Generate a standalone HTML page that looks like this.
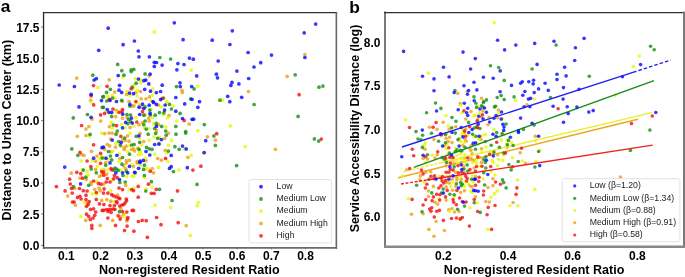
<!DOCTYPE html>
<html><head><meta charset="utf-8"><style>
html,body{margin:0;padding:0;background:#fff;}
body{width:685px;height:277px;overflow:hidden;}
svg{display:block;font-family:"Liberation Sans",sans-serif;will-change:transform;}
.B{fill:rgb(5,5,255);fill-opacity:0.8}.G{fill:rgb(18,143,18);fill-opacity:0.8}.Y{fill:rgb(230,249,5);fill-opacity:0.8}.O{fill:rgb(236,159,18);fill-opacity:0.8}.R{fill:rgb(243,14,14);fill-opacity:0.8}
</style></head><body>
<svg width="685" height="277" viewBox="0 0 685 277">
<text x="0.7" y="12.1" font-size="17.3" text-anchor="start" font-weight="bold" >a</text>
<text x="349.2" y="12.8" font-size="17.4" text-anchor="start" font-weight="bold" >b</text>
<defs><clipPath id="ca"><rect x="43" y="12.5" width="293.3" height="235.1"/></clipPath><clipPath id="cb"><rect x="385.3" y="12.5" width="298.7" height="234.3"/></clipPath></defs>
<g clip-path="url(#ca)">
<circle class="O" cx="304.9" cy="54.5" r="1.85"/>
<circle class="O" cx="76.8" cy="78.1" r="1.85"/>
<circle class="O" cx="90.7" cy="100.4" r="1.85"/>
<circle class="O" cx="92.0" cy="119.2" r="1.85"/>
<circle class="O" cx="100.8" cy="121.0" r="1.85"/>
<circle class="O" cx="88.9" cy="126.6" r="1.85"/>
<circle class="O" cx="85.9" cy="129.0" r="1.85"/>
<circle class="O" cx="109.2" cy="79.8" r="1.85"/>
<circle class="O" cx="114.7" cy="92.0" r="1.85"/>
<circle class="O" cx="126.6" cy="94.4" r="1.85"/>
<circle class="O" cx="122.5" cy="101.2" r="1.85"/>
<circle class="O" cx="129.0" cy="101.5" r="1.85"/>
<circle class="O" cx="149.0" cy="75.8" r="1.85"/>
<circle class="O" cx="135.7" cy="92.6" r="1.85"/>
<circle class="O" cx="140.4" cy="91.5" r="1.85"/>
<circle class="O" cx="149.5" cy="96.9" r="1.85"/>
<circle class="O" cx="146.0" cy="98.8" r="1.85"/>
<circle class="O" cx="141.1" cy="98.8" r="1.85"/>
<circle class="O" cx="182.0" cy="90.4" r="1.85"/>
<circle class="O" cx="182.3" cy="92.4" r="1.85"/>
<circle class="O" cx="248.5" cy="91.5" r="1.85"/>
<circle class="O" cx="287.2" cy="76.3" r="1.85"/>
<circle class="O" cx="132.2" cy="105.8" r="1.85"/>
<circle class="O" cx="116.5" cy="110.4" r="1.85"/>
<circle class="O" cx="115.8" cy="116.6" r="1.85"/>
<circle class="O" cx="122.5" cy="118.2" r="1.85"/>
<circle class="O" cx="127.0" cy="117.2" r="1.85"/>
<circle class="O" cx="109.5" cy="126.7" r="1.85"/>
<circle class="O" cx="130.1" cy="127.5" r="1.85"/>
<circle class="O" cx="133.9" cy="105.8" r="1.85"/>
<circle class="O" cx="141.1" cy="106.9" r="1.85"/>
<circle class="O" cx="158.5" cy="105.2" r="1.85"/>
<circle class="O" cx="144.9" cy="114.8" r="1.85"/>
<circle class="O" cx="148.7" cy="118.2" r="1.85"/>
<circle class="O" cx="149.2" cy="121.0" r="1.85"/>
<circle class="O" cx="142.5" cy="122.6" r="1.85"/>
<circle class="O" cx="139.0" cy="124.7" r="1.85"/>
<circle class="O" cx="158.5" cy="124.7" r="1.85"/>
<circle class="O" cx="156.6" cy="130.7" r="1.85"/>
<circle class="O" cx="169.0" cy="115.5" r="1.85"/>
<circle class="O" cx="189.2" cy="124.0" r="1.85"/>
<circle class="O" cx="71.2" cy="173.2" r="1.85"/>
<circle class="O" cx="77.3" cy="136.3" r="1.85"/>
<circle class="O" cx="86.0" cy="135.5" r="1.85"/>
<circle class="O" cx="91.6" cy="151.3" r="1.85"/>
<circle class="O" cx="81.7" cy="154.5" r="1.85"/>
<circle class="O" cx="83.8" cy="155.3" r="1.85"/>
<circle class="O" cx="97.0" cy="156.0" r="1.85"/>
<circle class="O" cx="95.7" cy="161.2" r="1.85"/>
<circle class="O" cx="95.7" cy="169.4" r="1.85"/>
<circle class="O" cx="80.0" cy="178.0" r="1.85"/>
<circle class="O" cx="86.2" cy="179.3" r="1.85"/>
<circle class="O" cx="99.5" cy="176.3" r="1.85"/>
<circle class="O" cx="101.7" cy="175.0" r="1.85"/>
<circle class="O" cx="90.9" cy="182.4" r="1.85"/>
<circle class="O" cx="91.2" cy="184.2" r="1.85"/>
<circle class="O" cx="74.6" cy="188.5" r="1.85"/>
<circle class="O" cx="94.7" cy="189.6" r="1.85"/>
<circle class="O" cx="99.0" cy="188.0" r="1.85"/>
<circle class="O" cx="100.1" cy="190.7" r="1.85"/>
<circle class="O" cx="104.6" cy="133.6" r="1.85"/>
<circle class="O" cx="109.0" cy="133.1" r="1.85"/>
<circle class="O" cx="112.2" cy="133.1" r="1.85"/>
<circle class="O" cx="127.7" cy="135.8" r="1.85"/>
<circle class="O" cx="110.6" cy="139.0" r="1.85"/>
<circle class="O" cx="123.0" cy="139.6" r="1.85"/>
<circle class="O" cx="125.2" cy="140.4" r="1.85"/>
<circle class="O" cx="129.0" cy="141.2" r="1.85"/>
<circle class="O" cx="107.3" cy="144.5" r="1.85"/>
<circle class="O" cx="109.7" cy="145.9" r="1.85"/>
<circle class="O" cx="120.9" cy="145.9" r="1.85"/>
<circle class="O" cx="126.3" cy="146.1" r="1.85"/>
<circle class="O" cx="104.6" cy="149.3" r="1.85"/>
<circle class="O" cx="115.5" cy="147.2" r="1.85"/>
<circle class="O" cx="124.4" cy="147.7" r="1.85"/>
<circle class="O" cx="124.1" cy="149.5" r="1.85"/>
<circle class="O" cx="131.7" cy="149.5" r="1.85"/>
<circle class="O" cx="111.1" cy="151.7" r="1.85"/>
<circle class="O" cx="119.8" cy="158.9" r="1.85"/>
<circle class="O" cx="126.3" cy="160.7" r="1.85"/>
<circle class="O" cx="129.5" cy="160.4" r="1.85"/>
<circle class="O" cx="140.0" cy="133.3" r="1.85"/>
<circle class="O" cx="143.8" cy="141.5" r="1.85"/>
<circle class="O" cx="158.8" cy="143.4" r="1.85"/>
<circle class="O" cx="133.5" cy="148.8" r="1.85"/>
<circle class="O" cx="134.6" cy="151.0" r="1.85"/>
<circle class="O" cx="137.9" cy="148.2" r="1.85"/>
<circle class="O" cx="146.0" cy="160.7" r="1.85"/>
<circle class="O" cx="137.3" cy="161.5" r="1.85"/>
<circle class="O" cx="157.7" cy="158.5" r="1.85"/>
<circle class="O" cx="161.4" cy="160.2" r="1.85"/>
<circle class="O" cx="168.4" cy="133.1" r="1.85"/>
<circle class="O" cx="164.7" cy="138.5" r="1.85"/>
<circle class="O" cx="207.4" cy="136.8" r="1.85"/>
<circle class="O" cx="215.4" cy="140.2" r="1.85"/>
<circle class="O" cx="165.2" cy="150.4" r="1.85"/>
<circle class="O" cx="187.9" cy="157.3" r="1.85"/>
<circle class="O" cx="275.4" cy="149.3" r="1.85"/>
<circle class="O" cx="67.7" cy="196.1" r="1.85"/>
<circle class="O" cx="101.7" cy="200.4" r="1.85"/>
<circle class="O" cx="75.4" cy="205.2" r="1.85"/>
<circle class="O" cx="87.1" cy="202.8" r="1.85"/>
<circle class="O" cx="85.8" cy="220.4" r="1.85"/>
<circle class="O" cx="117.6" cy="195.2" r="1.85"/>
<circle class="O" cx="106.8" cy="199.6" r="1.85"/>
<circle class="O" cx="110.8" cy="201.2" r="1.85"/>
<circle class="O" cx="120.9" cy="208.8" r="1.85"/>
<circle class="O" cx="123.6" cy="214.2" r="1.85"/>
<circle class="O" cx="120.9" cy="216.9" r="1.85"/>
<circle class="O" cx="112.7" cy="220.4" r="1.85"/>
<circle class="O" cx="126.8" cy="221.0" r="1.85"/>
<circle class="O" cx="105.7" cy="162.5" r="1.85"/>
<circle class="O" cx="123.6" cy="165.8" r="1.85"/>
<circle class="O" cx="126.3" cy="163.1" r="1.85"/>
<circle class="O" cx="125.7" cy="168.5" r="1.85"/>
<circle class="O" cx="104.1" cy="170.1" r="1.85"/>
<circle class="O" cx="106.8" cy="174.1" r="1.85"/>
<circle class="O" cx="103.5" cy="184.2" r="1.85"/>
<circle class="O" cx="125.7" cy="185.3" r="1.85"/>
<circle class="O" cx="137.3" cy="163.1" r="1.85"/>
<circle class="O" cx="133.5" cy="166.3" r="1.85"/>
<circle class="O" cx="152.3" cy="168.5" r="1.85"/>
<circle class="O" cx="153.6" cy="172.8" r="1.85"/>
<circle class="O" cx="186.2" cy="225.7" r="1.85"/>
<circle class="O" cx="100.2" cy="225.4" r="1.85"/>
<circle class="Y" cx="154.3" cy="31.9" r="1.85"/>
<circle class="Y" cx="191.2" cy="70.1" r="1.85"/>
<circle class="Y" cx="98.0" cy="87.4" r="1.85"/>
<circle class="Y" cx="91.5" cy="102.3" r="1.85"/>
<circle class="Y" cx="123.0" cy="77.1" r="1.85"/>
<circle class="Y" cx="127.0" cy="91.3" r="1.85"/>
<circle class="Y" cx="130.1" cy="95.3" r="1.85"/>
<circle class="Y" cx="112.2" cy="95.3" r="1.85"/>
<circle class="Y" cx="107.5" cy="96.4" r="1.85"/>
<circle class="Y" cx="114.7" cy="98.2" r="1.85"/>
<circle class="Y" cx="135.4" cy="78.7" r="1.85"/>
<circle class="Y" cx="140.6" cy="80.1" r="1.85"/>
<circle class="Y" cx="140.6" cy="82.8" r="1.85"/>
<circle class="Y" cx="134.6" cy="84.5" r="1.85"/>
<circle class="Y" cx="133.5" cy="87.7" r="1.85"/>
<circle class="Y" cx="153.0" cy="88.8" r="1.85"/>
<circle class="Y" cx="137.3" cy="90.4" r="1.85"/>
<circle class="Y" cx="137.3" cy="96.0" r="1.85"/>
<circle class="Y" cx="152.5" cy="95.1" r="1.85"/>
<circle class="Y" cx="150.9" cy="101.0" r="1.85"/>
<circle class="Y" cx="166.8" cy="101.5" r="1.85"/>
<circle class="Y" cx="197.8" cy="86.1" r="1.85"/>
<circle class="Y" cx="222.5" cy="100.2" r="1.85"/>
<circle class="Y" cx="230.5" cy="125.9" r="1.85"/>
<circle class="Y" cx="197.8" cy="130.5" r="1.85"/>
<circle class="Y" cx="106.8" cy="111.5" r="1.85"/>
<circle class="Y" cx="111.1" cy="113.7" r="1.85"/>
<circle class="Y" cx="116.9" cy="112.3" r="1.85"/>
<circle class="Y" cx="111.1" cy="122.4" r="1.85"/>
<circle class="Y" cx="121.6" cy="124.5" r="1.85"/>
<circle class="Y" cx="112.2" cy="128.0" r="1.85"/>
<circle class="Y" cx="125.2" cy="127.8" r="1.85"/>
<circle class="Y" cx="135.7" cy="102.5" r="1.85"/>
<circle class="Y" cx="139.5" cy="104.4" r="1.85"/>
<circle class="Y" cx="161.7" cy="106.9" r="1.85"/>
<circle class="Y" cx="150.9" cy="109.6" r="1.85"/>
<circle class="Y" cx="152.5" cy="117.7" r="1.85"/>
<circle class="Y" cx="136.0" cy="117.7" r="1.85"/>
<circle class="Y" cx="153.6" cy="123.7" r="1.85"/>
<circle class="Y" cx="133.9" cy="126.4" r="1.85"/>
<circle class="Y" cx="144.4" cy="127.8" r="1.85"/>
<circle class="Y" cx="148.7" cy="128.5" r="1.85"/>
<circle class="Y" cx="166.8" cy="102.5" r="1.85"/>
<circle class="Y" cx="173.3" cy="106.1" r="1.85"/>
<circle class="Y" cx="163.5" cy="114.5" r="1.85"/>
<circle class="Y" cx="167.5" cy="118.0" r="1.85"/>
<circle class="Y" cx="176.9" cy="121.0" r="1.85"/>
<circle class="Y" cx="166.0" cy="127.1" r="1.85"/>
<circle class="Y" cx="89.2" cy="136.1" r="1.85"/>
<circle class="Y" cx="101.7" cy="133.1" r="1.85"/>
<circle class="Y" cx="101.7" cy="156.4" r="1.85"/>
<circle class="Y" cx="99.5" cy="158.9" r="1.85"/>
<circle class="Y" cx="81.1" cy="161.0" r="1.85"/>
<circle class="Y" cx="92.5" cy="160.4" r="1.85"/>
<circle class="Y" cx="97.4" cy="166.1" r="1.85"/>
<circle class="Y" cx="101.4" cy="169.4" r="1.85"/>
<circle class="Y" cx="82.5" cy="169.6" r="1.85"/>
<circle class="Y" cx="87.1" cy="171.2" r="1.85"/>
<circle class="Y" cx="88.2" cy="175.0" r="1.85"/>
<circle class="Y" cx="96.3" cy="181.3" r="1.85"/>
<circle class="Y" cx="117.1" cy="133.3" r="1.85"/>
<circle class="Y" cx="130.1" cy="133.1" r="1.85"/>
<circle class="Y" cx="115.8" cy="143.4" r="1.85"/>
<circle class="Y" cx="129.5" cy="145.5" r="1.85"/>
<circle class="Y" cx="127.7" cy="151.3" r="1.85"/>
<circle class="Y" cx="112.7" cy="151.3" r="1.85"/>
<circle class="Y" cx="119.2" cy="154.2" r="1.85"/>
<circle class="Y" cx="103.5" cy="158.0" r="1.85"/>
<circle class="Y" cx="107.9" cy="159.6" r="1.85"/>
<circle class="Y" cx="119.0" cy="161.2" r="1.85"/>
<circle class="Y" cx="139.5" cy="138.0" r="1.85"/>
<circle class="Y" cx="154.1" cy="136.5" r="1.85"/>
<circle class="Y" cx="159.5" cy="137.4" r="1.85"/>
<circle class="Y" cx="149.2" cy="140.4" r="1.85"/>
<circle class="Y" cx="141.7" cy="145.0" r="1.85"/>
<circle class="Y" cx="139.7" cy="151.5" r="1.85"/>
<circle class="Y" cx="138.4" cy="154.7" r="1.85"/>
<circle class="Y" cx="141.1" cy="154.2" r="1.85"/>
<circle class="Y" cx="154.7" cy="154.2" r="1.85"/>
<circle class="Y" cx="145.5" cy="158.0" r="1.85"/>
<circle class="Y" cx="171.7" cy="140.7" r="1.85"/>
<circle class="Y" cx="168.4" cy="145.4" r="1.85"/>
<circle class="Y" cx="184.7" cy="148.9" r="1.85"/>
<circle class="Y" cx="166.9" cy="153.2" r="1.85"/>
<circle class="Y" cx="167.8" cy="161.5" r="1.85"/>
<circle class="Y" cx="191.2" cy="155.4" r="1.85"/>
<circle class="Y" cx="203.3" cy="153.0" r="1.85"/>
<circle class="Y" cx="178.8" cy="169.9" r="1.85"/>
<circle class="Y" cx="245.3" cy="146.5" r="1.85"/>
<circle class="Y" cx="92.5" cy="193.9" r="1.85"/>
<circle class="Y" cx="96.6" cy="194.4" r="1.85"/>
<circle class="Y" cx="84.4" cy="202.3" r="1.85"/>
<circle class="Y" cx="80.8" cy="216.4" r="1.85"/>
<circle class="Y" cx="113.8" cy="201.7" r="1.85"/>
<circle class="Y" cx="124.7" cy="216.4" r="1.85"/>
<circle class="Y" cx="155.2" cy="205.2" r="1.85"/>
<circle class="Y" cx="132.0" cy="164.7" r="1.85"/>
<circle class="Y" cx="120.9" cy="170.1" r="1.85"/>
<circle class="Y" cx="107.9" cy="169.8" r="1.85"/>
<circle class="Y" cx="126.6" cy="176.3" r="1.85"/>
<circle class="Y" cx="132.0" cy="175.9" r="1.85"/>
<circle class="Y" cx="111.7" cy="180.4" r="1.85"/>
<circle class="Y" cx="110.6" cy="190.7" r="1.85"/>
<circle class="Y" cx="129.0" cy="189.6" r="1.85"/>
<circle class="Y" cx="140.4" cy="165.0" r="1.85"/>
<circle class="Y" cx="146.0" cy="168.7" r="1.85"/>
<circle class="Y" cx="148.2" cy="169.0" r="1.85"/>
<circle class="Y" cx="158.5" cy="167.2" r="1.85"/>
<circle class="Y" cx="133.5" cy="176.3" r="1.85"/>
<circle class="Y" cx="144.4" cy="177.4" r="1.85"/>
<circle class="Y" cx="152.0" cy="187.1" r="1.85"/>
<circle class="Y" cx="133.9" cy="188.0" r="1.85"/>
<circle class="Y" cx="146.0" cy="188.9" r="1.85"/>
<circle class="Y" cx="170.7" cy="207.6" r="1.85"/>
<circle class="Y" cx="198.4" cy="202.5" r="1.85"/>
<circle class="Y" cx="197.3" cy="205.7" r="1.85"/>
<circle class="Y" cx="190.3" cy="235.4" r="1.85"/>
<circle class="G" cx="159.8" cy="57.5" r="1.85"/>
<circle class="G" cx="117.7" cy="64.4" r="1.85"/>
<circle class="G" cx="121.8" cy="70.7" r="1.85"/>
<circle class="G" cx="131.2" cy="69.8" r="1.85"/>
<circle class="G" cx="133.8" cy="69.4" r="1.85"/>
<circle class="G" cx="131.2" cy="71.6" r="1.85"/>
<circle class="G" cx="170.6" cy="59.0" r="1.85"/>
<circle class="G" cx="92.8" cy="75.2" r="1.85"/>
<circle class="G" cx="102.8" cy="96.9" r="1.85"/>
<circle class="G" cx="102.4" cy="107.3" r="1.85"/>
<circle class="G" cx="87.4" cy="114.5" r="1.85"/>
<circle class="G" cx="73.3" cy="117.9" r="1.85"/>
<circle class="G" cx="123.9" cy="75.2" r="1.85"/>
<circle class="G" cx="110.4" cy="89.3" r="1.85"/>
<circle class="G" cx="106.6" cy="92.4" r="1.85"/>
<circle class="G" cx="132.2" cy="87.2" r="1.85"/>
<circle class="G" cx="103.5" cy="96.7" r="1.85"/>
<circle class="G" cx="112.5" cy="98.0" r="1.85"/>
<circle class="G" cx="106.8" cy="101.0" r="1.85"/>
<circle class="G" cx="121.6" cy="100.4" r="1.85"/>
<circle class="G" cx="145.1" cy="73.9" r="1.85"/>
<circle class="G" cx="136.2" cy="83.2" r="1.85"/>
<circle class="G" cx="176.5" cy="86.6" r="1.85"/>
<circle class="G" cx="190.6" cy="98.9" r="1.85"/>
<circle class="G" cx="163.5" cy="98.0" r="1.85"/>
<circle class="G" cx="194.1" cy="88.9" r="1.85"/>
<circle class="G" cx="219.9" cy="100.2" r="1.85"/>
<circle class="G" cx="204.3" cy="124.6" r="1.85"/>
<circle class="G" cx="295.2" cy="74.8" r="1.85"/>
<circle class="G" cx="254.1" cy="104.5" r="1.85"/>
<circle class="G" cx="298.1" cy="116.4" r="1.85"/>
<circle class="G" cx="319.0" cy="87.2" r="1.85"/>
<circle class="G" cx="322.9" cy="86.1" r="1.85"/>
<circle class="G" cx="129.9" cy="106.1" r="1.85"/>
<circle class="G" cx="103.5" cy="107.4" r="1.85"/>
<circle class="G" cx="111.7" cy="116.6" r="1.85"/>
<circle class="G" cx="127.0" cy="114.5" r="1.85"/>
<circle class="G" cx="130.6" cy="115.0" r="1.85"/>
<circle class="G" cx="128.5" cy="119.3" r="1.85"/>
<circle class="G" cx="130.6" cy="121.5" r="1.85"/>
<circle class="G" cx="127.9" cy="123.7" r="1.85"/>
<circle class="G" cx="113.3" cy="125.0" r="1.85"/>
<circle class="G" cx="117.3" cy="131.0" r="1.85"/>
<circle class="G" cx="145.1" cy="106.9" r="1.85"/>
<circle class="G" cx="149.8" cy="110.1" r="1.85"/>
<circle class="G" cx="159.5" cy="112.6" r="1.85"/>
<circle class="G" cx="143.8" cy="115.2" r="1.85"/>
<circle class="G" cx="150.3" cy="115.0" r="1.85"/>
<circle class="G" cx="155.2" cy="115.2" r="1.85"/>
<circle class="G" cx="145.1" cy="121.0" r="1.85"/>
<circle class="G" cx="143.8" cy="124.7" r="1.85"/>
<circle class="G" cx="156.3" cy="123.4" r="1.85"/>
<circle class="G" cx="161.7" cy="126.4" r="1.85"/>
<circle class="G" cx="146.2" cy="129.1" r="1.85"/>
<circle class="G" cx="154.7" cy="128.5" r="1.85"/>
<circle class="G" cx="169.5" cy="104.4" r="1.85"/>
<circle class="G" cx="171.4" cy="109.0" r="1.85"/>
<circle class="G" cx="163.9" cy="112.8" r="1.85"/>
<circle class="G" cx="180.1" cy="113.4" r="1.85"/>
<circle class="G" cx="175.8" cy="126.4" r="1.85"/>
<circle class="G" cx="165.7" cy="131.0" r="1.85"/>
<circle class="G" cx="185.7" cy="131.5" r="1.85"/>
<circle class="G" cx="71.8" cy="148.9" r="1.85"/>
<circle class="G" cx="90.1" cy="134.4" r="1.85"/>
<circle class="G" cx="77.9" cy="155.3" r="1.85"/>
<circle class="G" cx="102.2" cy="158.0" r="1.85"/>
<circle class="G" cx="91.2" cy="169.0" r="1.85"/>
<circle class="G" cx="83.3" cy="170.1" r="1.85"/>
<circle class="G" cx="96.3" cy="172.8" r="1.85"/>
<circle class="G" cx="85.8" cy="177.2" r="1.85"/>
<circle class="G" cx="88.7" cy="185.3" r="1.85"/>
<circle class="G" cx="73.5" cy="186.7" r="1.85"/>
<circle class="G" cx="116.0" cy="134.2" r="1.85"/>
<circle class="G" cx="124.7" cy="138.0" r="1.85"/>
<circle class="G" cx="118.7" cy="141.5" r="1.85"/>
<circle class="G" cx="120.3" cy="144.8" r="1.85"/>
<circle class="G" cx="131.7" cy="145.0" r="1.85"/>
<circle class="G" cx="108.4" cy="151.5" r="1.85"/>
<circle class="G" cx="129.5" cy="154.2" r="1.85"/>
<circle class="G" cx="110.4" cy="156.0" r="1.85"/>
<circle class="G" cx="122.5" cy="157.5" r="1.85"/>
<circle class="G" cx="111.7" cy="159.9" r="1.85"/>
<circle class="G" cx="148.2" cy="134.2" r="1.85"/>
<circle class="G" cx="155.7" cy="133.3" r="1.85"/>
<circle class="G" cx="136.2" cy="136.3" r="1.85"/>
<circle class="G" cx="157.7" cy="138.3" r="1.85"/>
<circle class="G" cx="139.7" cy="142.3" r="1.85"/>
<circle class="G" cx="134.1" cy="144.5" r="1.85"/>
<circle class="G" cx="146.5" cy="147.4" r="1.85"/>
<circle class="G" cx="149.2" cy="148.8" r="1.85"/>
<circle class="G" cx="152.0" cy="149.3" r="1.85"/>
<circle class="G" cx="139.0" cy="149.3" r="1.85"/>
<circle class="G" cx="166.2" cy="135.2" r="1.85"/>
<circle class="G" cx="176.0" cy="134.2" r="1.85"/>
<circle class="G" cx="185.7" cy="133.1" r="1.85"/>
<circle class="G" cx="213.9" cy="135.9" r="1.85"/>
<circle class="G" cx="215.4" cy="145.4" r="1.85"/>
<circle class="G" cx="174.9" cy="146.7" r="1.85"/>
<circle class="G" cx="179.2" cy="149.3" r="1.85"/>
<circle class="G" cx="168.4" cy="151.1" r="1.85"/>
<circle class="G" cx="173.4" cy="171.6" r="1.85"/>
<circle class="G" cx="197.0" cy="184.4" r="1.85"/>
<circle class="G" cx="236.6" cy="165.6" r="1.85"/>
<circle class="G" cx="314.4" cy="138.9" r="1.85"/>
<circle class="G" cx="318.7" cy="141.1" r="1.85"/>
<circle class="G" cx="119.5" cy="211.7" r="1.85"/>
<circle class="G" cx="105.7" cy="165.2" r="1.85"/>
<circle class="G" cx="122.0" cy="164.2" r="1.85"/>
<circle class="G" cx="114.9" cy="168.0" r="1.85"/>
<circle class="G" cx="116.5" cy="169.0" r="1.85"/>
<circle class="G" cx="113.8" cy="170.1" r="1.85"/>
<circle class="G" cx="118.2" cy="170.4" r="1.85"/>
<circle class="G" cx="126.3" cy="171.2" r="1.85"/>
<circle class="G" cx="123.0" cy="175.5" r="1.85"/>
<circle class="G" cx="119.8" cy="182.4" r="1.85"/>
<circle class="G" cx="125.2" cy="182.0" r="1.85"/>
<circle class="G" cx="144.4" cy="165.2" r="1.85"/>
<circle class="G" cx="143.6" cy="169.4" r="1.85"/>
<circle class="G" cx="135.2" cy="172.8" r="1.85"/>
<circle class="G" cx="144.4" cy="175.5" r="1.85"/>
<circle class="G" cx="151.4" cy="181.7" r="1.85"/>
<circle class="G" cx="145.8" cy="191.0" r="1.85"/>
<circle class="G" cx="159.5" cy="189.3" r="1.85"/>
<circle class="G" cx="172.1" cy="200.5" r="1.85"/>
<circle class="R" cx="93.5" cy="85.6" r="1.85"/>
<circle class="R" cx="91.1" cy="95.8" r="1.85"/>
<circle class="R" cx="93.7" cy="104.9" r="1.85"/>
<circle class="R" cx="100.6" cy="114.9" r="1.85"/>
<circle class="R" cx="81.6" cy="125.5" r="1.85"/>
<circle class="R" cx="107.1" cy="86.3" r="1.85"/>
<circle class="R" cx="131.2" cy="88.8" r="1.85"/>
<circle class="R" cx="109.3" cy="99.3" r="1.85"/>
<circle class="R" cx="162.2" cy="98.5" r="1.85"/>
<circle class="R" cx="136.0" cy="101.5" r="1.85"/>
<circle class="R" cx="299.1" cy="94.7" r="1.85"/>
<circle class="R" cx="104.6" cy="113.4" r="1.85"/>
<circle class="R" cx="113.0" cy="109.0" r="1.85"/>
<circle class="R" cx="119.2" cy="112.3" r="1.85"/>
<circle class="R" cx="122.5" cy="109.6" r="1.85"/>
<circle class="R" cx="122.0" cy="111.7" r="1.85"/>
<circle class="R" cx="116.5" cy="125.6" r="1.85"/>
<circle class="R" cx="142.5" cy="111.7" r="1.85"/>
<circle class="R" cx="136.8" cy="122.0" r="1.85"/>
<circle class="R" cx="184.1" cy="120.4" r="1.85"/>
<circle class="R" cx="69.6" cy="179.2" r="1.85"/>
<circle class="R" cx="70.3" cy="184.0" r="1.85"/>
<circle class="R" cx="56.4" cy="186.6" r="1.85"/>
<circle class="R" cx="65.1" cy="190.9" r="1.85"/>
<circle class="R" cx="71.6" cy="188.3" r="1.85"/>
<circle class="R" cx="93.6" cy="144.8" r="1.85"/>
<circle class="R" cx="80.0" cy="152.4" r="1.85"/>
<circle class="R" cx="100.6" cy="153.4" r="1.85"/>
<circle class="R" cx="87.1" cy="161.0" r="1.85"/>
<circle class="R" cx="100.6" cy="163.3" r="1.85"/>
<circle class="R" cx="90.9" cy="166.5" r="1.85"/>
<circle class="R" cx="76.8" cy="172.3" r="1.85"/>
<circle class="R" cx="80.8" cy="173.7" r="1.85"/>
<circle class="R" cx="101.7" cy="171.7" r="1.85"/>
<circle class="R" cx="82.5" cy="178.2" r="1.85"/>
<circle class="R" cx="93.6" cy="181.0" r="1.85"/>
<circle class="R" cx="98.5" cy="183.4" r="1.85"/>
<circle class="R" cx="100.9" cy="184.2" r="1.85"/>
<circle class="R" cx="79.5" cy="188.5" r="1.85"/>
<circle class="R" cx="83.3" cy="190.7" r="1.85"/>
<circle class="R" cx="87.1" cy="191.0" r="1.85"/>
<circle class="R" cx="120.9" cy="136.3" r="1.85"/>
<circle class="R" cx="216.7" cy="133.7" r="1.85"/>
<circle class="R" cx="165.6" cy="158.4" r="1.85"/>
<circle class="R" cx="192.9" cy="170.1" r="1.85"/>
<circle class="R" cx="200.9" cy="166.2" r="1.85"/>
<circle class="R" cx="177.5" cy="190.9" r="1.85"/>
<circle class="R" cx="321.3" cy="139.1" r="1.85"/>
<circle class="R" cx="72.2" cy="193.1" r="1.85"/>
<circle class="R" cx="72.5" cy="202.0" r="1.85"/>
<circle class="R" cx="96.3" cy="192.5" r="1.85"/>
<circle class="R" cx="77.5" cy="197.4" r="1.85"/>
<circle class="R" cx="80.0" cy="196.3" r="1.85"/>
<circle class="R" cx="81.1" cy="199.0" r="1.85"/>
<circle class="R" cx="86.0" cy="195.2" r="1.85"/>
<circle class="R" cx="86.0" cy="199.6" r="1.85"/>
<circle class="R" cx="96.3" cy="199.4" r="1.85"/>
<circle class="R" cx="74.1" cy="202.0" r="1.85"/>
<circle class="R" cx="89.2" cy="201.7" r="1.85"/>
<circle class="R" cx="88.2" cy="204.5" r="1.85"/>
<circle class="R" cx="86.5" cy="206.3" r="1.85"/>
<circle class="R" cx="99.5" cy="203.9" r="1.85"/>
<circle class="R" cx="90.5" cy="209.3" r="1.85"/>
<circle class="R" cx="93.6" cy="208.8" r="1.85"/>
<circle class="R" cx="95.7" cy="212.0" r="1.85"/>
<circle class="R" cx="102.2" cy="210.4" r="1.85"/>
<circle class="R" cx="86.5" cy="214.2" r="1.85"/>
<circle class="R" cx="88.7" cy="216.4" r="1.85"/>
<circle class="R" cx="94.7" cy="215.3" r="1.85"/>
<circle class="R" cx="93.0" cy="218.0" r="1.85"/>
<circle class="R" cx="90.3" cy="219.6" r="1.85"/>
<circle class="R" cx="103.5" cy="193.1" r="1.85"/>
<circle class="R" cx="107.9" cy="193.1" r="1.85"/>
<circle class="R" cx="111.7" cy="194.7" r="1.85"/>
<circle class="R" cx="113.3" cy="195.8" r="1.85"/>
<circle class="R" cx="118.7" cy="198.0" r="1.85"/>
<circle class="R" cx="119.8" cy="198.7" r="1.85"/>
<circle class="R" cx="116.0" cy="196.9" r="1.85"/>
<circle class="R" cx="116.5" cy="201.5" r="1.85"/>
<circle class="R" cx="117.1" cy="202.8" r="1.85"/>
<circle class="R" cx="126.3" cy="199.0" r="1.85"/>
<circle class="R" cx="126.6" cy="200.7" r="1.85"/>
<circle class="R" cx="125.2" cy="202.8" r="1.85"/>
<circle class="R" cx="103.9" cy="204.5" r="1.85"/>
<circle class="R" cx="110.0" cy="205.5" r="1.85"/>
<circle class="R" cx="114.4" cy="205.5" r="1.85"/>
<circle class="R" cx="119.8" cy="206.1" r="1.85"/>
<circle class="R" cx="122.0" cy="205.0" r="1.85"/>
<circle class="R" cx="123.6" cy="204.5" r="1.85"/>
<circle class="R" cx="132.2" cy="210.4" r="1.85"/>
<circle class="R" cx="106.2" cy="209.5" r="1.85"/>
<circle class="R" cx="108.4" cy="209.9" r="1.85"/>
<circle class="R" cx="110.6" cy="209.3" r="1.85"/>
<circle class="R" cx="113.3" cy="209.1" r="1.85"/>
<circle class="R" cx="114.9" cy="209.3" r="1.85"/>
<circle class="R" cx="107.9" cy="211.5" r="1.85"/>
<circle class="R" cx="111.1" cy="212.4" r="1.85"/>
<circle class="R" cx="103.5" cy="210.4" r="1.85"/>
<circle class="R" cx="122.5" cy="211.5" r="1.85"/>
<circle class="R" cx="126.8" cy="212.0" r="1.85"/>
<circle class="R" cx="118.2" cy="215.8" r="1.85"/>
<circle class="R" cx="127.9" cy="217.5" r="1.85"/>
<circle class="R" cx="127.4" cy="219.1" r="1.85"/>
<circle class="R" cx="107.9" cy="218.0" r="1.85"/>
<circle class="R" cx="138.2" cy="197.2" r="1.85"/>
<circle class="R" cx="151.4" cy="193.3" r="1.85"/>
<circle class="R" cx="154.1" cy="193.3" r="1.85"/>
<circle class="R" cx="133.5" cy="210.4" r="1.85"/>
<circle class="R" cx="156.6" cy="217.5" r="1.85"/>
<circle class="R" cx="142.2" cy="220.4" r="1.85"/>
<circle class="R" cx="146.2" cy="220.7" r="1.85"/>
<circle class="R" cx="138.4" cy="221.5" r="1.85"/>
<circle class="R" cx="111.1" cy="168.5" r="1.85"/>
<circle class="R" cx="111.7" cy="169.8" r="1.85"/>
<circle class="R" cx="103.5" cy="172.3" r="1.85"/>
<circle class="R" cx="103.9" cy="175.2" r="1.85"/>
<circle class="R" cx="114.4" cy="175.5" r="1.85"/>
<circle class="R" cx="117.1" cy="177.7" r="1.85"/>
<circle class="R" cx="113.6" cy="178.8" r="1.85"/>
<circle class="R" cx="107.3" cy="178.5" r="1.85"/>
<circle class="R" cx="106.2" cy="182.0" r="1.85"/>
<circle class="R" cx="110.0" cy="182.0" r="1.85"/>
<circle class="R" cx="119.0" cy="188.0" r="1.85"/>
<circle class="R" cx="122.5" cy="189.6" r="1.85"/>
<circle class="R" cx="104.1" cy="188.9" r="1.85"/>
<circle class="R" cx="131.7" cy="189.6" r="1.85"/>
<circle class="R" cx="150.3" cy="171.2" r="1.85"/>
<circle class="R" cx="148.4" cy="184.2" r="1.85"/>
<circle class="R" cx="138.2" cy="186.4" r="1.85"/>
<circle class="R" cx="156.3" cy="189.3" r="1.85"/>
<circle class="R" cx="133.5" cy="190.7" r="1.85"/>
<circle class="R" cx="178.2" cy="222.7" r="1.85"/>
<circle class="R" cx="91.8" cy="225.4" r="1.85"/>
<circle class="R" cx="91.8" cy="228.3" r="1.85"/>
<circle class="R" cx="120.1" cy="219.1" r="1.85"/>
<circle class="R" cx="115.5" cy="225.4" r="1.85"/>
<circle class="R" cx="127.1" cy="226.1" r="1.85"/>
<circle class="R" cx="124.5" cy="230.5" r="1.85"/>
<circle class="R" cx="133.9" cy="231.2" r="1.85"/>
<circle class="R" cx="161.0" cy="224.7" r="1.85"/>
<circle class="R" cx="147.4" cy="237.3" r="1.85"/>
<circle class="B" cx="98.7" cy="50.3" r="1.85"/>
<circle class="B" cx="108.2" cy="28.2" r="1.85"/>
<circle class="B" cx="134.4" cy="41.0" r="1.85"/>
<circle class="B" cx="123.1" cy="44.7" r="1.85"/>
<circle class="B" cx="138.3" cy="51.0" r="1.85"/>
<circle class="B" cx="139.0" cy="56.8" r="1.85"/>
<circle class="B" cx="149.4" cy="56.8" r="1.85"/>
<circle class="B" cx="154.3" cy="62.3" r="1.85"/>
<circle class="B" cx="156.5" cy="62.5" r="1.85"/>
<circle class="B" cx="162.1" cy="65.1" r="1.85"/>
<circle class="B" cx="154.3" cy="66.4" r="1.85"/>
<circle class="B" cx="174.3" cy="22.8" r="1.85"/>
<circle class="B" cx="183.1" cy="39.7" r="1.85"/>
<circle class="B" cx="212.2" cy="40.2" r="1.85"/>
<circle class="B" cx="189.4" cy="58.1" r="1.85"/>
<circle class="B" cx="193.3" cy="59.2" r="1.85"/>
<circle class="B" cx="218.2" cy="61.0" r="1.85"/>
<circle class="B" cx="177.9" cy="63.6" r="1.85"/>
<circle class="B" cx="184.0" cy="64.6" r="1.85"/>
<circle class="B" cx="176.9" cy="69.8" r="1.85"/>
<circle class="B" cx="232.3" cy="30.8" r="1.85"/>
<circle class="B" cx="229.9" cy="44.5" r="1.85"/>
<circle class="B" cx="248.1" cy="52.5" r="1.85"/>
<circle class="B" cx="271.5" cy="55.1" r="1.85"/>
<circle class="B" cx="260.7" cy="62.7" r="1.85"/>
<circle class="B" cx="254.0" cy="67.0" r="1.85"/>
<circle class="B" cx="236.9" cy="71.1" r="1.85"/>
<circle class="B" cx="315.7" cy="24.1" r="1.85"/>
<circle class="B" cx="304.2" cy="32.8" r="1.85"/>
<circle class="B" cx="304.9" cy="57.5" r="1.85"/>
<circle class="B" cx="94.1" cy="80.0" r="1.85"/>
<circle class="B" cx="96.3" cy="78.7" r="1.85"/>
<circle class="B" cx="59.2" cy="85.0" r="1.85"/>
<circle class="B" cx="74.4" cy="86.5" r="1.85"/>
<circle class="B" cx="91.1" cy="94.3" r="1.85"/>
<circle class="B" cx="101.5" cy="100.6" r="1.85"/>
<circle class="B" cx="79.0" cy="106.9" r="1.85"/>
<circle class="B" cx="91.1" cy="117.3" r="1.85"/>
<circle class="B" cx="118.2" cy="75.6" r="1.85"/>
<circle class="B" cx="119.6" cy="85.3" r="1.85"/>
<circle class="B" cx="119.0" cy="90.2" r="1.85"/>
<circle class="B" cx="121.7" cy="92.4" r="1.85"/>
<circle class="B" cx="129.5" cy="93.1" r="1.85"/>
<circle class="B" cx="110.0" cy="100.4" r="1.85"/>
<circle class="B" cx="116.5" cy="101.5" r="1.85"/>
<circle class="B" cx="150.1" cy="74.2" r="1.85"/>
<circle class="B" cx="138.4" cy="79.0" r="1.85"/>
<circle class="B" cx="143.8" cy="80.7" r="1.85"/>
<circle class="B" cx="145.8" cy="80.1" r="1.85"/>
<circle class="B" cx="148.8" cy="83.9" r="1.85"/>
<circle class="B" cx="162.2" cy="85.2" r="1.85"/>
<circle class="B" cx="144.7" cy="89.3" r="1.85"/>
<circle class="B" cx="150.5" cy="91.2" r="1.85"/>
<circle class="B" cx="156.3" cy="92.6" r="1.85"/>
<circle class="B" cx="160.6" cy="91.5" r="1.85"/>
<circle class="B" cx="133.5" cy="93.7" r="1.85"/>
<circle class="B" cx="160.6" cy="99.6" r="1.85"/>
<circle class="B" cx="153.0" cy="101.5" r="1.85"/>
<circle class="B" cx="180.0" cy="82.8" r="1.85"/>
<circle class="B" cx="180.3" cy="86.6" r="1.85"/>
<circle class="B" cx="191.7" cy="86.6" r="1.85"/>
<circle class="B" cx="175.8" cy="97.5" r="1.85"/>
<circle class="B" cx="192.0" cy="99.3" r="1.85"/>
<circle class="B" cx="196.7" cy="75.9" r="1.85"/>
<circle class="B" cx="216.4" cy="74.2" r="1.85"/>
<circle class="B" cx="217.5" cy="77.8" r="1.85"/>
<circle class="B" cx="248.7" cy="78.5" r="1.85"/>
<circle class="B" cx="232.0" cy="82.4" r="1.85"/>
<circle class="B" cx="230.9" cy="85.4" r="1.85"/>
<circle class="B" cx="238.9" cy="83.9" r="1.85"/>
<circle class="B" cx="227.7" cy="96.3" r="1.85"/>
<circle class="B" cx="241.7" cy="97.3" r="1.85"/>
<circle class="B" cx="229.8" cy="101.7" r="1.85"/>
<circle class="B" cx="199.5" cy="101.7" r="1.85"/>
<circle class="B" cx="197.8" cy="107.3" r="1.85"/>
<circle class="B" cx="193.6" cy="119.2" r="1.85"/>
<circle class="B" cx="129.9" cy="104.4" r="1.85"/>
<circle class="B" cx="107.3" cy="109.6" r="1.85"/>
<circle class="B" cx="109.0" cy="112.3" r="1.85"/>
<circle class="B" cx="111.7" cy="112.3" r="1.85"/>
<circle class="B" cx="122.7" cy="114.2" r="1.85"/>
<circle class="B" cx="131.4" cy="118.2" r="1.85"/>
<circle class="B" cx="125.7" cy="122.4" r="1.85"/>
<circle class="B" cx="132.2" cy="123.1" r="1.85"/>
<circle class="B" cx="122.5" cy="127.8" r="1.85"/>
<circle class="B" cx="142.5" cy="104.2" r="1.85"/>
<circle class="B" cx="139.0" cy="107.2" r="1.85"/>
<circle class="B" cx="143.8" cy="108.5" r="1.85"/>
<circle class="B" cx="149.2" cy="105.2" r="1.85"/>
<circle class="B" cx="153.6" cy="102.5" r="1.85"/>
<circle class="B" cx="156.3" cy="104.4" r="1.85"/>
<circle class="B" cx="139.7" cy="114.5" r="1.85"/>
<circle class="B" cx="150.1" cy="113.4" r="1.85"/>
<circle class="B" cx="156.3" cy="126.4" r="1.85"/>
<circle class="B" cx="165.2" cy="105.0" r="1.85"/>
<circle class="B" cx="184.7" cy="103.9" r="1.85"/>
<circle class="B" cx="164.6" cy="110.1" r="1.85"/>
<circle class="B" cx="175.8" cy="111.2" r="1.85"/>
<circle class="B" cx="182.5" cy="118.5" r="1.85"/>
<circle class="B" cx="192.0" cy="119.3" r="1.85"/>
<circle class="B" cx="64.7" cy="167.1" r="1.85"/>
<circle class="B" cx="102.0" cy="147.7" r="1.85"/>
<circle class="B" cx="93.6" cy="158.2" r="1.85"/>
<circle class="B" cx="80.6" cy="183.9" r="1.85"/>
<circle class="B" cx="112.2" cy="140.1" r="1.85"/>
<circle class="B" cx="121.2" cy="142.3" r="1.85"/>
<circle class="B" cx="103.5" cy="147.2" r="1.85"/>
<circle class="B" cx="116.9" cy="155.3" r="1.85"/>
<circle class="B" cx="106.0" cy="158.2" r="1.85"/>
<circle class="B" cx="139.0" cy="135.8" r="1.85"/>
<circle class="B" cx="161.4" cy="139.6" r="1.85"/>
<circle class="B" cx="154.7" cy="144.5" r="1.85"/>
<circle class="B" cx="159.0" cy="144.1" r="1.85"/>
<circle class="B" cx="146.0" cy="151.5" r="1.85"/>
<circle class="B" cx="149.8" cy="155.0" r="1.85"/>
<circle class="B" cx="143.3" cy="160.4" r="1.85"/>
<circle class="B" cx="140.0" cy="161.2" r="1.85"/>
<circle class="B" cx="205.7" cy="140.7" r="1.85"/>
<circle class="B" cx="182.5" cy="146.1" r="1.85"/>
<circle class="B" cx="186.2" cy="148.9" r="1.85"/>
<circle class="B" cx="171.2" cy="155.4" r="1.85"/>
<circle class="B" cx="204.2" cy="152.6" r="1.85"/>
<circle class="B" cx="171.2" cy="166.7" r="1.85"/>
<circle class="B" cx="169.5" cy="168.4" r="1.85"/>
<circle class="B" cx="187.3" cy="167.7" r="1.85"/>
<circle class="B" cx="110.0" cy="162.9" r="1.85"/>
<circle class="B" cx="129.5" cy="166.3" r="1.85"/>
<circle class="B" cx="115.8" cy="172.8" r="1.85"/>
<circle class="B" cx="122.5" cy="172.8" r="1.85"/>
<circle class="B" cx="127.7" cy="172.8" r="1.85"/>
<circle class="B" cx="119.5" cy="179.5" r="1.85"/>
<circle class="B" cx="140.0" cy="162.5" r="1.85"/>
<circle class="B" cx="138.6" cy="168.3" r="1.85"/>
<circle class="B" cx="134.6" cy="172.3" r="1.85"/>
</g>
<g clip-path="url(#cb)">
<circle class="O" cx="443.1" cy="122.3" r="1.8"/>
<circle class="O" cx="429.4" cy="127.2" r="1.8"/>
<circle class="O" cx="437.0" cy="129.4" r="1.8"/>
<circle class="O" cx="457.8" cy="93.4" r="1.8"/>
<circle class="O" cx="467.2" cy="91.5" r="1.8"/>
<circle class="O" cx="481.5" cy="98.2" r="1.8"/>
<circle class="O" cx="527.1" cy="104.9" r="1.8"/>
<circle class="O" cx="460.2" cy="103.6" r="1.8"/>
<circle class="O" cx="471.0" cy="111.5" r="1.8"/>
<circle class="O" cx="465.8" cy="119.1" r="1.8"/>
<circle class="O" cx="449.1" cy="129.3" r="1.8"/>
<circle class="O" cx="455.8" cy="126.7" r="1.8"/>
<circle class="O" cx="465.8" cy="128.9" r="1.8"/>
<circle class="O" cx="482.8" cy="110.9" r="1.8"/>
<circle class="O" cx="481.7" cy="117.2" r="1.8"/>
<circle class="O" cx="477.7" cy="119.5" r="1.8"/>
<circle class="O" cx="489.1" cy="117.2" r="1.8"/>
<circle class="O" cx="498.3" cy="110.1" r="1.8"/>
<circle class="O" cx="497.5" cy="117.7" r="1.8"/>
<circle class="O" cx="488.0" cy="124.7" r="1.8"/>
<circle class="O" cx="441.0" cy="135.5" r="1.8"/>
<circle class="O" cx="434.0" cy="139.6" r="1.8"/>
<circle class="O" cx="425.0" cy="149.3" r="1.8"/>
<circle class="O" cx="444.5" cy="145.5" r="1.8"/>
<circle class="O" cx="437.2" cy="154.7" r="1.8"/>
<circle class="O" cx="435.0" cy="158.0" r="1.8"/>
<circle class="O" cx="423.1" cy="158.5" r="1.8"/>
<circle class="O" cx="427.5" cy="159.1" r="1.8"/>
<circle class="O" cx="464.5" cy="132.5" r="1.8"/>
<circle class="O" cx="449.5" cy="137.2" r="1.8"/>
<circle class="O" cx="446.1" cy="138.5" r="1.8"/>
<circle class="O" cx="448.2" cy="141.5" r="1.8"/>
<circle class="O" cx="452.0" cy="142.6" r="1.8"/>
<circle class="O" cx="459.1" cy="138.5" r="1.8"/>
<circle class="O" cx="465.0" cy="139.0" r="1.8"/>
<circle class="O" cx="466.1" cy="141.2" r="1.8"/>
<circle class="O" cx="462.9" cy="145.5" r="1.8"/>
<circle class="O" cx="471.5" cy="145.5" r="1.8"/>
<circle class="O" cx="469.4" cy="148.2" r="1.8"/>
<circle class="O" cx="471.0" cy="150.4" r="1.8"/>
<circle class="O" cx="472.1" cy="153.7" r="1.8"/>
<circle class="O" cx="446.1" cy="159.9" r="1.8"/>
<circle class="O" cx="452.6" cy="159.9" r="1.8"/>
<circle class="O" cx="464.5" cy="158.0" r="1.8"/>
<circle class="O" cx="471.0" cy="158.5" r="1.8"/>
<circle class="O" cx="473.7" cy="160.7" r="1.8"/>
<circle class="O" cx="481.0" cy="139.8" r="1.8"/>
<circle class="O" cx="479.9" cy="138.0" r="1.8"/>
<circle class="O" cx="481.5" cy="148.8" r="1.8"/>
<circle class="O" cx="493.4" cy="153.7" r="1.8"/>
<circle class="O" cx="497.7" cy="154.7" r="1.8"/>
<circle class="O" cx="479.9" cy="157.5" r="1.8"/>
<circle class="O" cx="506.9" cy="147.2" r="1.8"/>
<circle class="O" cx="520.2" cy="152.8" r="1.8"/>
<circle class="O" cx="535.3" cy="136.3" r="1.8"/>
<circle class="O" cx="525.6" cy="163.4" r="1.8"/>
<circle class="O" cx="620.4" cy="177.0" r="1.8"/>
<circle class="O" cx="406.7" cy="169.8" r="1.8"/>
<circle class="O" cx="420.2" cy="175.9" r="1.8"/>
<circle class="O" cx="425.8" cy="172.3" r="1.8"/>
<circle class="O" cx="430.7" cy="171.7" r="1.8"/>
<circle class="O" cx="419.9" cy="179.9" r="1.8"/>
<circle class="O" cx="433.4" cy="186.4" r="1.8"/>
<circle class="O" cx="428.5" cy="191.0" r="1.8"/>
<circle class="O" cx="454.2" cy="163.6" r="1.8"/>
<circle class="O" cx="461.2" cy="162.5" r="1.8"/>
<circle class="O" cx="446.1" cy="165.8" r="1.8"/>
<circle class="O" cx="463.4" cy="166.3" r="1.8"/>
<circle class="O" cx="455.8" cy="172.3" r="1.8"/>
<circle class="O" cx="474.2" cy="168.0" r="1.8"/>
<circle class="O" cx="449.9" cy="176.6" r="1.8"/>
<circle class="O" cx="456.9" cy="177.2" r="1.8"/>
<circle class="O" cx="452.0" cy="179.3" r="1.8"/>
<circle class="O" cx="456.9" cy="179.9" r="1.8"/>
<circle class="O" cx="461.2" cy="179.3" r="1.8"/>
<circle class="O" cx="446.6" cy="182.6" r="1.8"/>
<circle class="O" cx="449.3" cy="183.1" r="1.8"/>
<circle class="O" cx="446.1" cy="186.9" r="1.8"/>
<circle class="O" cx="455.8" cy="186.4" r="1.8"/>
<circle class="O" cx="469.9" cy="185.8" r="1.8"/>
<circle class="O" cx="472.1" cy="186.9" r="1.8"/>
<circle class="O" cx="452.6" cy="190.2" r="1.8"/>
<circle class="O" cx="464.5" cy="190.7" r="1.8"/>
<circle class="O" cx="481.5" cy="162.5" r="1.8"/>
<circle class="O" cx="475.5" cy="176.6" r="1.8"/>
<circle class="O" cx="492.9" cy="178.8" r="1.8"/>
<circle class="O" cx="488.0" cy="187.5" r="1.8"/>
<circle class="O" cx="492.9" cy="185.6" r="1.8"/>
<circle class="O" cx="411.5" cy="214.2" r="1.8"/>
<circle class="O" cx="428.5" cy="196.5" r="1.8"/>
<circle class="O" cx="435.0" cy="202.3" r="1.8"/>
<circle class="O" cx="437.7" cy="204.1" r="1.8"/>
<circle class="O" cx="423.1" cy="213.7" r="1.8"/>
<circle class="O" cx="436.1" cy="221.5" r="1.8"/>
<circle class="O" cx="460.7" cy="192.5" r="1.8"/>
<circle class="O" cx="446.1" cy="200.1" r="1.8"/>
<circle class="O" cx="448.8" cy="209.9" r="1.8"/>
<circle class="O" cx="452.0" cy="208.8" r="1.8"/>
<circle class="O" cx="454.5" cy="212.0" r="1.8"/>
<circle class="O" cx="459.1" cy="211.5" r="1.8"/>
<circle class="O" cx="475.5" cy="196.9" r="1.8"/>
<circle class="O" cx="485.8" cy="201.5" r="1.8"/>
<circle class="O" cx="489.3" cy="202.0" r="1.8"/>
<circle class="O" cx="428.9" cy="229.4" r="1.8"/>
<circle class="O" cx="434.0" cy="236.2" r="1.8"/>
<circle class="O" cx="444.4" cy="230.5" r="1.8"/>
<circle class="O" cx="460.2" cy="219.3" r="1.8"/>
<circle class="O" cx="513.1" cy="202.5" r="1.8"/>
<line x1="398" y1="177.8" x2="637.9" y2="119.3" stroke="#eca628" stroke-width="1.4"/>
<circle class="Y" cx="494.2" cy="22.8" r="1.8"/>
<circle class="Y" cx="639.3" cy="56.0" r="1.8"/>
<circle class="Y" cx="633.2" cy="66.2" r="1.8"/>
<circle class="Y" cx="428.3" cy="73.1" r="1.8"/>
<circle class="Y" cx="405.6" cy="119.7" r="1.8"/>
<circle class="Y" cx="515.4" cy="100.6" r="1.8"/>
<circle class="Y" cx="534.2" cy="99.1" r="1.8"/>
<circle class="Y" cx="615.3" cy="95.4" r="1.8"/>
<circle class="Y" cx="460.7" cy="105.5" r="1.8"/>
<circle class="Y" cx="461.8" cy="112.8" r="1.8"/>
<circle class="Y" cx="446.1" cy="115.5" r="1.8"/>
<circle class="Y" cx="474.0" cy="115.9" r="1.8"/>
<circle class="Y" cx="448.2" cy="126.0" r="1.8"/>
<circle class="Y" cx="462.9" cy="129.6" r="1.8"/>
<circle class="Y" cx="477.7" cy="106.3" r="1.8"/>
<circle class="Y" cx="479.3" cy="112.8" r="1.8"/>
<circle class="Y" cx="475.5" cy="115.0" r="1.8"/>
<circle class="Y" cx="498.6" cy="113.0" r="1.8"/>
<circle class="Y" cx="502.6" cy="119.1" r="1.8"/>
<circle class="Y" cx="494.0" cy="129.6" r="1.8"/>
<circle class="Y" cx="425.3" cy="142.8" r="1.8"/>
<circle class="Y" cx="424.5" cy="145.2" r="1.8"/>
<circle class="Y" cx="432.3" cy="155.3" r="1.8"/>
<circle class="Y" cx="446.6" cy="133.6" r="1.8"/>
<circle class="Y" cx="462.3" cy="133.6" r="1.8"/>
<circle class="Y" cx="461.8" cy="135.2" r="1.8"/>
<circle class="Y" cx="467.7" cy="134.7" r="1.8"/>
<circle class="Y" cx="474.0" cy="136.9" r="1.8"/>
<circle class="Y" cx="447.2" cy="144.5" r="1.8"/>
<circle class="Y" cx="460.7" cy="141.5" r="1.8"/>
<circle class="Y" cx="464.0" cy="142.8" r="1.8"/>
<circle class="Y" cx="446.1" cy="148.8" r="1.8"/>
<circle class="Y" cx="455.8" cy="148.2" r="1.8"/>
<circle class="Y" cx="447.2" cy="154.7" r="1.8"/>
<circle class="Y" cx="456.9" cy="155.3" r="1.8"/>
<circle class="Y" cx="460.7" cy="153.7" r="1.8"/>
<circle class="Y" cx="465.0" cy="154.7" r="1.8"/>
<circle class="Y" cx="455.8" cy="160.2" r="1.8"/>
<circle class="Y" cx="461.2" cy="158.5" r="1.8"/>
<circle class="Y" cx="464.0" cy="160.2" r="1.8"/>
<circle class="Y" cx="482.0" cy="135.2" r="1.8"/>
<circle class="Y" cx="478.8" cy="139.0" r="1.8"/>
<circle class="Y" cx="477.7" cy="143.9" r="1.8"/>
<circle class="Y" cx="485.3" cy="134.7" r="1.8"/>
<circle class="Y" cx="504.0" cy="134.7" r="1.8"/>
<circle class="Y" cx="501.5" cy="140.1" r="1.8"/>
<circle class="Y" cx="485.8" cy="146.9" r="1.8"/>
<circle class="Y" cx="482.0" cy="152.0" r="1.8"/>
<circle class="Y" cx="490.2" cy="151.5" r="1.8"/>
<circle class="Y" cx="503.7" cy="155.3" r="1.8"/>
<circle class="Y" cx="492.3" cy="160.4" r="1.8"/>
<circle class="Y" cx="498.8" cy="159.6" r="1.8"/>
<circle class="Y" cx="502.6" cy="160.4" r="1.8"/>
<circle class="Y" cx="476.1" cy="159.6" r="1.8"/>
<circle class="Y" cx="507.4" cy="139.8" r="1.8"/>
<circle class="Y" cx="511.5" cy="142.6" r="1.8"/>
<circle class="Y" cx="506.9" cy="143.9" r="1.8"/>
<circle class="Y" cx="512.6" cy="157.8" r="1.8"/>
<circle class="Y" cx="522.3" cy="161.0" r="1.8"/>
<circle class="Y" cx="535.3" cy="140.7" r="1.8"/>
<circle class="Y" cx="539.7" cy="150.4" r="1.8"/>
<circle class="Y" cx="535.8" cy="161.2" r="1.8"/>
<circle class="Y" cx="517.6" cy="180.1" r="1.8"/>
<circle class="Y" cx="534.9" cy="189.4" r="1.8"/>
<circle class="Y" cx="402.3" cy="175.9" r="1.8"/>
<circle class="Y" cx="425.3" cy="162.5" r="1.8"/>
<circle class="Y" cx="439.4" cy="176.1" r="1.8"/>
<circle class="Y" cx="424.2" cy="182.0" r="1.8"/>
<circle class="Y" cx="458.0" cy="163.1" r="1.8"/>
<circle class="Y" cx="465.0" cy="162.5" r="1.8"/>
<circle class="Y" cx="472.6" cy="162.5" r="1.8"/>
<circle class="Y" cx="471.5" cy="172.8" r="1.8"/>
<circle class="Y" cx="447.2" cy="176.1" r="1.8"/>
<circle class="Y" cx="460.7" cy="176.6" r="1.8"/>
<circle class="Y" cx="472.6" cy="176.1" r="1.8"/>
<circle class="Y" cx="453.1" cy="182.0" r="1.8"/>
<circle class="Y" cx="465.0" cy="182.0" r="1.8"/>
<circle class="Y" cx="468.3" cy="183.7" r="1.8"/>
<circle class="Y" cx="473.2" cy="182.0" r="1.8"/>
<circle class="Y" cx="451.0" cy="186.4" r="1.8"/>
<circle class="Y" cx="464.5" cy="186.4" r="1.8"/>
<circle class="Y" cx="471.0" cy="191.2" r="1.8"/>
<circle class="Y" cx="476.6" cy="162.9" r="1.8"/>
<circle class="Y" cx="492.9" cy="162.5" r="1.8"/>
<circle class="Y" cx="480.4" cy="166.3" r="1.8"/>
<circle class="Y" cx="497.7" cy="165.8" r="1.8"/>
<circle class="Y" cx="484.2" cy="171.2" r="1.8"/>
<circle class="Y" cx="491.2" cy="171.7" r="1.8"/>
<circle class="Y" cx="495.0" cy="175.0" r="1.8"/>
<circle class="Y" cx="483.1" cy="178.8" r="1.8"/>
<circle class="Y" cx="497.2" cy="191.0" r="1.8"/>
<circle class="Y" cx="408.3" cy="198.5" r="1.8"/>
<circle class="Y" cx="438.8" cy="199.0" r="1.8"/>
<circle class="Y" cx="454.2" cy="196.3" r="1.8"/>
<circle class="Y" cx="469.9" cy="207.7" r="1.8"/>
<circle class="Y" cx="472.1" cy="192.5" r="1.8"/>
<circle class="Y" cx="449.3" cy="211.5" r="1.8"/>
<circle class="Y" cx="494.5" cy="193.6" r="1.8"/>
<circle class="Y" cx="491.0" cy="197.2" r="1.8"/>
<circle class="Y" cx="477.2" cy="202.8" r="1.8"/>
<circle class="Y" cx="487.8" cy="229.4" r="1.8"/>
<circle class="Y" cx="510.0" cy="205.7" r="1.8"/>
<circle class="Y" cx="518.1" cy="205.7" r="1.8"/>
<line x1="403" y1="171.8" x2="440" y2="163.0" stroke="#eaf028" stroke-width="1.4" stroke-dasharray="3 1.6"/>
<line x1="440" y1="163.0" x2="651.8" y2="112.6" stroke="#eaf028" stroke-width="1.4"/>
<circle class="G" cx="490.5" cy="65.7" r="1.8"/>
<circle class="G" cx="498.7" cy="67.5" r="1.8"/>
<circle class="G" cx="556.1" cy="45.1" r="1.8"/>
<circle class="G" cx="532.1" cy="69.0" r="1.8"/>
<circle class="G" cx="650.6" cy="46.2" r="1.8"/>
<circle class="G" cx="654.2" cy="49.7" r="1.8"/>
<circle class="G" cx="435.5" cy="103.0" r="1.8"/>
<circle class="G" cx="440.9" cy="108.4" r="1.8"/>
<circle class="G" cx="426.6" cy="112.7" r="1.8"/>
<circle class="G" cx="416.0" cy="131.6" r="1.8"/>
<circle class="G" cx="455.0" cy="90.6" r="1.8"/>
<circle class="G" cx="474.0" cy="96.9" r="1.8"/>
<circle class="G" cx="504.2" cy="80.4" r="1.8"/>
<circle class="G" cx="501.2" cy="95.6" r="1.8"/>
<circle class="G" cx="497.2" cy="97.5" r="1.8"/>
<circle class="G" cx="486.4" cy="99.9" r="1.8"/>
<circle class="G" cx="483.7" cy="101.5" r="1.8"/>
<circle class="G" cx="504.2" cy="99.6" r="1.8"/>
<circle class="G" cx="514.1" cy="96.9" r="1.8"/>
<circle class="G" cx="550.5" cy="97.6" r="1.8"/>
<circle class="G" cx="534.2" cy="125.1" r="1.8"/>
<circle class="G" cx="506.1" cy="124.0" r="1.8"/>
<circle class="G" cx="523.4" cy="129.4" r="1.8"/>
<circle class="G" cx="589.3" cy="76.3" r="1.8"/>
<circle class="G" cx="649.9" cy="130.1" r="1.8"/>
<circle class="G" cx="452.0" cy="117.5" r="1.8"/>
<circle class="G" cx="456.0" cy="121.3" r="1.8"/>
<circle class="G" cx="468.6" cy="122.4" r="1.8"/>
<circle class="G" cx="451.7" cy="127.8" r="1.8"/>
<circle class="G" cx="474.2" cy="128.0" r="1.8"/>
<circle class="G" cx="475.9" cy="103.3" r="1.8"/>
<circle class="G" cx="483.4" cy="102.5" r="1.8"/>
<circle class="G" cx="476.6" cy="107.4" r="1.8"/>
<circle class="G" cx="481.5" cy="105.8" r="1.8"/>
<circle class="G" cx="482.6" cy="106.9" r="1.8"/>
<circle class="G" cx="495.6" cy="106.3" r="1.8"/>
<circle class="G" cx="494.5" cy="106.9" r="1.8"/>
<circle class="G" cx="476.6" cy="126.9" r="1.8"/>
<circle class="G" cx="479.9" cy="128.5" r="1.8"/>
<circle class="G" cx="422.6" cy="135.2" r="1.8"/>
<circle class="G" cx="431.5" cy="133.3" r="1.8"/>
<circle class="G" cx="418.0" cy="139.0" r="1.8"/>
<circle class="G" cx="421.0" cy="139.8" r="1.8"/>
<circle class="G" cx="438.6" cy="141.2" r="1.8"/>
<circle class="G" cx="422.4" cy="147.4" r="1.8"/>
<circle class="G" cx="427.5" cy="154.7" r="1.8"/>
<circle class="G" cx="442.1" cy="157.5" r="1.8"/>
<circle class="G" cx="444.2" cy="159.1" r="1.8"/>
<circle class="G" cx="445.5" cy="134.7" r="1.8"/>
<circle class="G" cx="455.3" cy="133.1" r="1.8"/>
<circle class="G" cx="472.6" cy="134.2" r="1.8"/>
<circle class="G" cx="445.5" cy="142.8" r="1.8"/>
<circle class="G" cx="458.0" cy="139.8" r="1.8"/>
<circle class="G" cx="465.0" cy="147.2" r="1.8"/>
<circle class="G" cx="456.9" cy="149.9" r="1.8"/>
<circle class="G" cx="455.3" cy="151.5" r="1.8"/>
<circle class="G" cx="460.2" cy="150.4" r="1.8"/>
<circle class="G" cx="461.8" cy="151.0" r="1.8"/>
<circle class="G" cx="449.3" cy="153.1" r="1.8"/>
<circle class="G" cx="476.1" cy="136.3" r="1.8"/>
<circle class="G" cx="485.3" cy="141.5" r="1.8"/>
<circle class="G" cx="496.7" cy="132.5" r="1.8"/>
<circle class="G" cx="502.1" cy="133.6" r="1.8"/>
<circle class="G" cx="491.2" cy="145.2" r="1.8"/>
<circle class="G" cx="499.4" cy="147.2" r="1.8"/>
<circle class="G" cx="475.5" cy="149.3" r="1.8"/>
<circle class="G" cx="494.0" cy="152.0" r="1.8"/>
<circle class="G" cx="503.7" cy="153.1" r="1.8"/>
<circle class="G" cx="485.8" cy="156.9" r="1.8"/>
<circle class="G" cx="483.7" cy="159.6" r="1.8"/>
<circle class="G" cx="508.5" cy="140.4" r="1.8"/>
<circle class="G" cx="507.4" cy="144.8" r="1.8"/>
<circle class="G" cx="513.1" cy="145.5" r="1.8"/>
<circle class="G" cx="518.2" cy="161.5" r="1.8"/>
<circle class="G" cx="538.6" cy="151.5" r="1.8"/>
<circle class="G" cx="508.9" cy="164.5" r="1.8"/>
<circle class="G" cx="511.1" cy="169.9" r="1.8"/>
<circle class="G" cx="534.9" cy="167.1" r="1.8"/>
<circle class="G" cx="506.1" cy="187.9" r="1.8"/>
<circle class="G" cx="630.4" cy="150.4" r="1.8"/>
<circle class="G" cx="429.1" cy="179.3" r="1.8"/>
<circle class="G" cx="416.6" cy="185.3" r="1.8"/>
<circle class="G" cx="443.2" cy="189.1" r="1.8"/>
<circle class="G" cx="446.6" cy="162.5" r="1.8"/>
<circle class="G" cx="467.2" cy="165.0" r="1.8"/>
<circle class="G" cx="454.2" cy="166.9" r="1.8"/>
<circle class="G" cx="464.0" cy="169.0" r="1.8"/>
<circle class="G" cx="467.7" cy="171.2" r="1.8"/>
<circle class="G" cx="471.5" cy="179.3" r="1.8"/>
<circle class="G" cx="456.4" cy="183.7" r="1.8"/>
<circle class="G" cx="460.7" cy="182.6" r="1.8"/>
<circle class="G" cx="462.3" cy="184.2" r="1.8"/>
<circle class="G" cx="461.2" cy="185.8" r="1.8"/>
<circle class="G" cx="485.3" cy="162.5" r="1.8"/>
<circle class="G" cx="485.8" cy="168.0" r="1.8"/>
<circle class="G" cx="483.7" cy="172.8" r="1.8"/>
<circle class="G" cx="502.6" cy="179.9" r="1.8"/>
<circle class="G" cx="503.7" cy="182.6" r="1.8"/>
<circle class="G" cx="484.7" cy="185.0" r="1.8"/>
<circle class="G" cx="431.8" cy="192.9" r="1.8"/>
<circle class="G" cx="441.5" cy="193.1" r="1.8"/>
<circle class="G" cx="422.0" cy="211.7" r="1.8"/>
<circle class="G" cx="449.9" cy="194.2" r="1.8"/>
<circle class="G" cx="454.2" cy="194.7" r="1.8"/>
<circle class="G" cx="464.5" cy="206.1" r="1.8"/>
<circle class="G" cx="474.2" cy="202.8" r="1.8"/>
<circle class="G" cx="457.5" cy="209.3" r="1.8"/>
<circle class="G" cx="480.2" cy="212.4" r="1.8"/>
<line x1="413.9" y1="167.4" x2="654" y2="80.7" stroke="#1a8c1a" stroke-width="1.4"/>
<circle class="R" cx="436.1" cy="122.5" r="1.8"/>
<circle class="R" cx="409.5" cy="127.5" r="1.8"/>
<circle class="R" cx="433.1" cy="127.2" r="1.8"/>
<circle class="R" cx="558.1" cy="108.8" r="1.8"/>
<circle class="R" cx="652.3" cy="116.0" r="1.8"/>
<circle class="R" cx="631.5" cy="123.6" r="1.8"/>
<circle class="R" cx="464.0" cy="110.9" r="1.8"/>
<circle class="R" cx="469.7" cy="126.7" r="1.8"/>
<circle class="R" cx="464.5" cy="131.0" r="1.8"/>
<circle class="R" cx="482.4" cy="114.8" r="1.8"/>
<circle class="R" cx="477.2" cy="121.0" r="1.8"/>
<circle class="R" cx="477.7" cy="127.8" r="1.8"/>
<circle class="R" cx="412.3" cy="149.3" r="1.8"/>
<circle class="R" cx="413.7" cy="155.8" r="1.8"/>
<circle class="R" cx="441.5" cy="134.4" r="1.8"/>
<circle class="R" cx="437.7" cy="151.7" r="1.8"/>
<circle class="R" cx="425.3" cy="156.7" r="1.8"/>
<circle class="R" cx="465.6" cy="136.3" r="1.8"/>
<circle class="R" cx="448.8" cy="147.7" r="1.8"/>
<circle class="R" cx="445.5" cy="158.0" r="1.8"/>
<circle class="R" cx="449.9" cy="157.5" r="1.8"/>
<circle class="R" cx="453.1" cy="157.5" r="1.8"/>
<circle class="R" cx="467.7" cy="158.0" r="1.8"/>
<circle class="R" cx="496.7" cy="142.3" r="1.8"/>
<circle class="R" cx="489.6" cy="154.2" r="1.8"/>
<circle class="R" cx="477.7" cy="156.9" r="1.8"/>
<circle class="R" cx="521.5" cy="148.2" r="1.8"/>
<circle class="R" cx="505.5" cy="153.1" r="1.8"/>
<circle class="R" cx="512.6" cy="166.7" r="1.8"/>
<circle class="R" cx="516.9" cy="187.9" r="1.8"/>
<circle class="R" cx="409.7" cy="168.5" r="1.8"/>
<circle class="R" cx="421.5" cy="170.1" r="1.8"/>
<circle class="R" cx="423.1" cy="173.9" r="1.8"/>
<circle class="R" cx="431.0" cy="176.3" r="1.8"/>
<circle class="R" cx="434.5" cy="175.9" r="1.8"/>
<circle class="R" cx="434.0" cy="178.8" r="1.8"/>
<circle class="R" cx="441.0" cy="178.2" r="1.8"/>
<circle class="R" cx="442.6" cy="176.6" r="1.8"/>
<circle class="R" cx="426.9" cy="184.2" r="1.8"/>
<circle class="R" cx="425.3" cy="188.0" r="1.8"/>
<circle class="R" cx="438.8" cy="188.0" r="1.8"/>
<circle class="R" cx="441.0" cy="185.8" r="1.8"/>
<circle class="R" cx="442.1" cy="181.0" r="1.8"/>
<circle class="R" cx="443.7" cy="183.1" r="1.8"/>
<circle class="R" cx="450.4" cy="163.1" r="1.8"/>
<circle class="R" cx="458.0" cy="165.8" r="1.8"/>
<circle class="R" cx="450.4" cy="169.6" r="1.8"/>
<circle class="R" cx="453.1" cy="170.1" r="1.8"/>
<circle class="R" cx="448.8" cy="172.3" r="1.8"/>
<circle class="R" cx="446.1" cy="172.3" r="1.8"/>
<circle class="R" cx="458.5" cy="172.8" r="1.8"/>
<circle class="R" cx="461.8" cy="172.3" r="1.8"/>
<circle class="R" cx="464.0" cy="173.4" r="1.8"/>
<circle class="R" cx="469.9" cy="169.6" r="1.8"/>
<circle class="R" cx="465.6" cy="176.1" r="1.8"/>
<circle class="R" cx="467.2" cy="178.2" r="1.8"/>
<circle class="R" cx="445.5" cy="180.4" r="1.8"/>
<circle class="R" cx="466.7" cy="181.0" r="1.8"/>
<circle class="R" cx="447.2" cy="190.4" r="1.8"/>
<circle class="R" cx="456.9" cy="190.4" r="1.8"/>
<circle class="R" cx="476.6" cy="166.5" r="1.8"/>
<circle class="R" cx="482.0" cy="166.3" r="1.8"/>
<circle class="R" cx="490.7" cy="166.5" r="1.8"/>
<circle class="R" cx="475.5" cy="171.2" r="1.8"/>
<circle class="R" cx="479.1" cy="177.2" r="1.8"/>
<circle class="R" cx="478.8" cy="181.5" r="1.8"/>
<circle class="R" cx="495.6" cy="182.0" r="1.8"/>
<circle class="R" cx="500.5" cy="184.2" r="1.8"/>
<circle class="R" cx="475.5" cy="185.3" r="1.8"/>
<circle class="R" cx="483.7" cy="191.0" r="1.8"/>
<circle class="R" cx="412.1" cy="199.4" r="1.8"/>
<circle class="R" cx="436.7" cy="194.2" r="1.8"/>
<circle class="R" cx="439.9" cy="194.7" r="1.8"/>
<circle class="R" cx="433.4" cy="196.9" r="1.8"/>
<circle class="R" cx="425.8" cy="199.8" r="1.8"/>
<circle class="R" cx="432.1" cy="200.7" r="1.8"/>
<circle class="R" cx="439.7" cy="200.1" r="1.8"/>
<circle class="R" cx="423.1" cy="205.0" r="1.8"/>
<circle class="R" cx="431.8" cy="207.7" r="1.8"/>
<circle class="R" cx="429.6" cy="209.1" r="1.8"/>
<circle class="R" cx="431.0" cy="211.3" r="1.8"/>
<circle class="R" cx="436.7" cy="211.3" r="1.8"/>
<circle class="R" cx="439.4" cy="210.4" r="1.8"/>
<circle class="R" cx="434.3" cy="217.1" r="1.8"/>
<circle class="R" cx="443.4" cy="220.4" r="1.8"/>
<circle class="R" cx="445.5" cy="196.9" r="1.8"/>
<circle class="R" cx="453.1" cy="199.6" r="1.8"/>
<circle class="R" cx="453.7" cy="202.3" r="1.8"/>
<circle class="R" cx="456.4" cy="204.8" r="1.8"/>
<circle class="R" cx="459.6" cy="198.0" r="1.8"/>
<circle class="R" cx="462.3" cy="201.5" r="1.8"/>
<circle class="R" cx="466.1" cy="202.0" r="1.8"/>
<circle class="R" cx="474.2" cy="199.6" r="1.8"/>
<circle class="R" cx="451.5" cy="218.5" r="1.8"/>
<circle class="R" cx="456.4" cy="218.0" r="1.8"/>
<circle class="R" cx="460.2" cy="218.9" r="1.8"/>
<circle class="R" cx="462.3" cy="217.5" r="1.8"/>
<circle class="R" cx="483.4" cy="195.0" r="1.8"/>
<circle class="R" cx="495.0" cy="205.5" r="1.8"/>
<circle class="R" cx="488.2" cy="207.4" r="1.8"/>
<circle class="R" cx="477.7" cy="211.5" r="1.8"/>
<circle class="R" cx="487.1" cy="214.7" r="1.8"/>
<circle class="R" cx="469.4" cy="226.1" r="1.8"/>
<circle class="R" cx="491.6" cy="229.4" r="1.8"/>
<circle class="R" cx="516.1" cy="194.4" r="1.8"/>
<line x1="401" y1="184" x2="427" y2="180.0" stroke="#f02020" stroke-width="1.4" stroke-dasharray="3 1.6"/>
<line x1="427" y1="180.0" x2="652.7" y2="145.1" stroke="#f02020" stroke-width="1.4"/>
<circle class="B" cx="403.6" cy="51.4" r="1.8"/>
<circle class="B" cx="443.5" cy="67.2" r="1.8"/>
<circle class="B" cx="497.6" cy="40.2" r="1.8"/>
<circle class="B" cx="504.6" cy="49.9" r="1.8"/>
<circle class="B" cx="463.0" cy="52.1" r="1.8"/>
<circle class="B" cx="475.3" cy="58.6" r="1.8"/>
<circle class="B" cx="470.6" cy="69.0" r="1.8"/>
<circle class="B" cx="500.2" cy="70.9" r="1.8"/>
<circle class="B" cx="515.8" cy="45.1" r="1.8"/>
<circle class="B" cx="534.7" cy="43.4" r="1.8"/>
<circle class="B" cx="554.0" cy="41.2" r="1.8"/>
<circle class="B" cx="537.1" cy="64.4" r="1.8"/>
<circle class="B" cx="564.6" cy="67.2" r="1.8"/>
<circle class="B" cx="584.1" cy="38.4" r="1.8"/>
<circle class="B" cx="575.4" cy="47.7" r="1.8"/>
<circle class="B" cx="574.7" cy="60.5" r="1.8"/>
<circle class="B" cx="640.6" cy="64.6" r="1.8"/>
<circle class="B" cx="422.5" cy="76.3" r="1.8"/>
<circle class="B" cx="434.0" cy="78.9" r="1.8"/>
<circle class="B" cx="434.0" cy="90.8" r="1.8"/>
<circle class="B" cx="436.6" cy="111.0" r="1.8"/>
<circle class="B" cx="422.3" cy="130.1" r="1.8"/>
<circle class="B" cx="449.1" cy="76.9" r="1.8"/>
<circle class="B" cx="464.0" cy="85.8" r="1.8"/>
<circle class="B" cx="474.0" cy="82.3" r="1.8"/>
<circle class="B" cx="454.2" cy="92.6" r="1.8"/>
<circle class="B" cx="468.6" cy="90.6" r="1.8"/>
<circle class="B" cx="467.5" cy="94.2" r="1.8"/>
<circle class="B" cx="474.2" cy="100.7" r="1.8"/>
<circle class="B" cx="483.4" cy="77.2" r="1.8"/>
<circle class="B" cx="493.2" cy="78.3" r="1.8"/>
<circle class="B" cx="476.9" cy="89.9" r="1.8"/>
<circle class="B" cx="500.1" cy="91.7" r="1.8"/>
<circle class="B" cx="511.5" cy="85.4" r="1.8"/>
<circle class="B" cx="520.6" cy="83.3" r="1.8"/>
<circle class="B" cx="522.3" cy="81.7" r="1.8"/>
<circle class="B" cx="528.8" cy="81.7" r="1.8"/>
<circle class="B" cx="533.6" cy="80.2" r="1.8"/>
<circle class="B" cx="533.2" cy="83.9" r="1.8"/>
<circle class="B" cx="545.1" cy="83.3" r="1.8"/>
<circle class="B" cx="557.0" cy="74.2" r="1.8"/>
<circle class="B" cx="557.0" cy="79.6" r="1.8"/>
<circle class="B" cx="563.5" cy="87.6" r="1.8"/>
<circle class="B" cx="538.6" cy="88.9" r="1.8"/>
<circle class="B" cx="524.9" cy="91.5" r="1.8"/>
<circle class="B" cx="534.2" cy="92.6" r="1.8"/>
<circle class="B" cx="548.3" cy="90.4" r="1.8"/>
<circle class="B" cx="522.8" cy="95.2" r="1.8"/>
<circle class="B" cx="528.4" cy="99.1" r="1.8"/>
<circle class="B" cx="530.6" cy="98.4" r="1.8"/>
<circle class="B" cx="563.1" cy="99.1" r="1.8"/>
<circle class="B" cx="524.1" cy="106.7" r="1.8"/>
<circle class="B" cx="529.9" cy="106.7" r="1.8"/>
<circle class="B" cx="553.1" cy="106.2" r="1.8"/>
<circle class="B" cx="520.6" cy="118.1" r="1.8"/>
<circle class="B" cx="532.1" cy="123.3" r="1.8"/>
<circle class="B" cx="563.5" cy="122.3" r="1.8"/>
<circle class="B" cx="518.4" cy="130.9" r="1.8"/>
<circle class="B" cx="566.1" cy="75.9" r="1.8"/>
<circle class="B" cx="622.4" cy="76.8" r="1.8"/>
<circle class="B" cx="579.1" cy="89.3" r="1.8"/>
<circle class="B" cx="567.2" cy="106.7" r="1.8"/>
<circle class="B" cx="576.9" cy="107.1" r="1.8"/>
<circle class="B" cx="568.2" cy="113.6" r="1.8"/>
<circle class="B" cx="588.8" cy="112.1" r="1.8"/>
<circle class="B" cx="593.2" cy="110.6" r="1.8"/>
<circle class="B" cx="655.8" cy="112.5" r="1.8"/>
<circle class="B" cx="464.3" cy="103.3" r="1.8"/>
<circle class="B" cx="467.7" cy="108.3" r="1.8"/>
<circle class="B" cx="458.2" cy="109.8" r="1.8"/>
<circle class="B" cx="466.7" cy="112.8" r="1.8"/>
<circle class="B" cx="467.7" cy="115.5" r="1.8"/>
<circle class="B" cx="461.2" cy="127.5" r="1.8"/>
<circle class="B" cx="472.1" cy="129.6" r="1.8"/>
<circle class="B" cx="484.5" cy="108.0" r="1.8"/>
<circle class="B" cx="479.9" cy="109.0" r="1.8"/>
<circle class="B" cx="486.4" cy="112.3" r="1.8"/>
<circle class="B" cx="478.8" cy="116.3" r="1.8"/>
<circle class="B" cx="483.1" cy="119.1" r="1.8"/>
<circle class="B" cx="494.0" cy="118.2" r="1.8"/>
<circle class="B" cx="496.1" cy="115.5" r="1.8"/>
<circle class="B" cx="501.5" cy="112.0" r="1.8"/>
<circle class="B" cx="501.2" cy="119.1" r="1.8"/>
<circle class="B" cx="489.6" cy="122.0" r="1.8"/>
<circle class="B" cx="478.2" cy="124.2" r="1.8"/>
<circle class="B" cx="502.9" cy="124.2" r="1.8"/>
<circle class="B" cx="504.0" cy="127.1" r="1.8"/>
<circle class="B" cx="503.7" cy="130.4" r="1.8"/>
<circle class="B" cx="401.8" cy="156.7" r="1.8"/>
<circle class="B" cx="440.5" cy="133.9" r="1.8"/>
<circle class="B" cx="442.6" cy="146.1" r="1.8"/>
<circle class="B" cx="423.1" cy="155.3" r="1.8"/>
<circle class="B" cx="452.0" cy="132.5" r="1.8"/>
<circle class="B" cx="468.8" cy="132.5" r="1.8"/>
<circle class="B" cx="462.9" cy="136.9" r="1.8"/>
<circle class="B" cx="473.2" cy="143.4" r="1.8"/>
<circle class="B" cx="459.1" cy="146.1" r="1.8"/>
<circle class="B" cx="451.5" cy="155.3" r="1.8"/>
<circle class="B" cx="479.3" cy="136.3" r="1.8"/>
<circle class="B" cx="475.5" cy="142.8" r="1.8"/>
<circle class="B" cx="492.9" cy="134.2" r="1.8"/>
<circle class="B" cx="496.1" cy="136.3" r="1.8"/>
<circle class="B" cx="493.4" cy="156.0" r="1.8"/>
<circle class="B" cx="486.4" cy="160.2" r="1.8"/>
<circle class="B" cx="518.5" cy="132.5" r="1.8"/>
<circle class="B" cx="510.4" cy="137.2" r="1.8"/>
<circle class="B" cx="538.6" cy="136.3" r="1.8"/>
<circle class="B" cx="539.7" cy="165.6" r="1.8"/>
<circle class="B" cx="436.1" cy="179.1" r="1.8"/>
<circle class="B" cx="449.9" cy="166.9" r="1.8"/>
<circle class="B" cx="461.2" cy="164.7" r="1.8"/>
<circle class="B" cx="461.8" cy="169.6" r="1.8"/>
<circle class="B" cx="453.1" cy="175.9" r="1.8"/>
<circle class="B" cx="448.8" cy="179.3" r="1.8"/>
<circle class="B" cx="474.2" cy="179.3" r="1.8"/>
<circle class="B" cx="458.5" cy="188.0" r="1.8"/>
<circle class="B" cx="473.7" cy="190.4" r="1.8"/>
<circle class="B" cx="487.8" cy="174.5" r="1.8"/>
<circle class="B" cx="475.5" cy="179.3" r="1.8"/>
<circle class="B" cx="475.5" cy="190.7" r="1.8"/>
<circle class="B" cx="478.2" cy="191.2" r="1.8"/>
<circle class="B" cx="443.4" cy="193.1" r="1.8"/>
<circle class="B" cx="463.4" cy="202.3" r="1.8"/>
<line x1="402" y1="147" x2="633" y2="72.4" stroke="#2020f0" stroke-width="1.4"/>
<line x1="633" y1="72.4" x2="670.6" y2="60.1" stroke="#2020f0" stroke-width="1.4" stroke-dasharray="3.6 2"/>
</g>
<line x1="43.55" y1="11.9" x2="43.55" y2="248.9" stroke="#262626" stroke-width="1.3"/>
<line x1="42.9" y1="12.65" x2="337.2" y2="12.65" stroke="#303030" stroke-width="1.4"/>
<line x1="336.35" y1="11.9" x2="336.35" y2="248.8" stroke="#666" stroke-width="1.6"/>
<line x1="42.9" y1="247.95" x2="337.2" y2="247.95" stroke="#6a6a6a" stroke-width="1.7"/>
<line x1="385.0" y1="11.6" x2="385.0" y2="248" stroke="#7a7a7a" stroke-width="2.0"/>
<line x1="384" y1="12.65" x2="685" y2="12.65" stroke="#303030" stroke-width="1.4"/>
<line x1="684" y1="11.6" x2="684" y2="248" stroke="#7a7a7a" stroke-width="2.0"/>
<line x1="384" y1="246.8" x2="685" y2="246.8" stroke="#888" stroke-width="2.4"/>
<line x1="66.4" y1="247.6" x2="66.4" y2="249.4" stroke="#666" stroke-width="0.8"/>
<text x="66.4" y="259.5" font-size="12" text-anchor="middle" font-weight="bold" >0.1</text>
<line x1="100.56" y1="247.6" x2="100.56" y2="249.4" stroke="#666" stroke-width="0.8"/>
<text x="100.56" y="259.5" font-size="12" text-anchor="middle" font-weight="bold" >0.2</text>
<line x1="134.72" y1="247.6" x2="134.72" y2="249.4" stroke="#666" stroke-width="0.8"/>
<text x="134.72" y="259.5" font-size="12" text-anchor="middle" font-weight="bold" >0.3</text>
<line x1="168.88000000000002" y1="247.6" x2="168.88000000000002" y2="249.4" stroke="#666" stroke-width="0.8"/>
<text x="168.88000000000002" y="259.5" font-size="12" text-anchor="middle" font-weight="bold" >0.4</text>
<line x1="203.04000000000002" y1="247.6" x2="203.04000000000002" y2="249.4" stroke="#666" stroke-width="0.8"/>
<text x="203.04000000000002" y="259.5" font-size="12" text-anchor="middle" font-weight="bold" >0.5</text>
<line x1="237.20000000000002" y1="247.6" x2="237.20000000000002" y2="249.4" stroke="#666" stroke-width="0.8"/>
<text x="237.20000000000002" y="259.5" font-size="12" text-anchor="middle" font-weight="bold" >0.6</text>
<line x1="271.36" y1="247.6" x2="271.36" y2="249.4" stroke="#666" stroke-width="0.8"/>
<text x="271.36" y="259.5" font-size="12" text-anchor="middle" font-weight="bold" >0.7</text>
<line x1="305.52000000000004" y1="247.6" x2="305.52000000000004" y2="249.4" stroke="#666" stroke-width="0.8"/>
<text x="305.52000000000004" y="259.5" font-size="12" text-anchor="middle" font-weight="bold" >0.8</text>
<line x1="41" y1="245.3" x2="43" y2="245.3" stroke="#666" stroke-width="0.8"/>
<text x="39.5" y="249.8" font-size="12" text-anchor="end" font-weight="bold" >0.0</text>
<line x1="41" y1="214.125" x2="43" y2="214.125" stroke="#666" stroke-width="0.8"/>
<text x="39.5" y="218.625" font-size="12" text-anchor="end" font-weight="bold" >2.5</text>
<line x1="41" y1="182.95000000000002" x2="43" y2="182.95000000000002" stroke="#666" stroke-width="0.8"/>
<text x="39.5" y="187.45000000000002" font-size="12" text-anchor="end" font-weight="bold" >5.0</text>
<line x1="41" y1="151.775" x2="43" y2="151.775" stroke="#666" stroke-width="0.8"/>
<text x="39.5" y="156.275" font-size="12" text-anchor="end" font-weight="bold" >7.5</text>
<line x1="41" y1="120.60000000000001" x2="43" y2="120.60000000000001" stroke="#666" stroke-width="0.8"/>
<text x="39.5" y="125.10000000000001" font-size="12" text-anchor="end" font-weight="bold" >10.0</text>
<line x1="41" y1="89.42500000000001" x2="43" y2="89.42500000000001" stroke="#666" stroke-width="0.8"/>
<text x="39.5" y="93.92500000000001" font-size="12" text-anchor="end" font-weight="bold" >12.5</text>
<line x1="41" y1="58.25" x2="43" y2="58.25" stroke="#666" stroke-width="0.8"/>
<text x="39.5" y="62.75" font-size="12" text-anchor="end" font-weight="bold" >15.0</text>
<line x1="41" y1="27.07499999999999" x2="43" y2="27.07499999999999" stroke="#666" stroke-width="0.8"/>
<text x="39.5" y="31.57499999999999" font-size="12" text-anchor="end" font-weight="bold" >17.5</text>
<text x="443.3" y="259.5" font-size="12" text-anchor="middle" font-weight="bold" >0.2</text>
<text x="508.0" y="259.5" font-size="12" text-anchor="middle" font-weight="bold" >0.4</text>
<text x="572.7" y="259.5" font-size="12" text-anchor="middle" font-weight="bold" >0.6</text>
<text x="637.4000000000001" y="259.5" font-size="12" text-anchor="middle" font-weight="bold" >0.8</text>
<text x="380.5" y="221.3" font-size="12" text-anchor="end" font-weight="bold" >6.0</text>
<text x="380.5" y="177.60000000000002" font-size="12" text-anchor="end" font-weight="bold" >6.5</text>
<text x="380.5" y="133.9" font-size="12" text-anchor="end" font-weight="bold" >7.0</text>
<text x="380.5" y="90.19999999999997" font-size="12" text-anchor="end" font-weight="bold" >7.5</text>
<text x="380.5" y="46.499999999999986" font-size="12" text-anchor="end" font-weight="bold" >8.0</text>
<text x="189.3" y="273.5" font-size="13" text-anchor="middle" font-weight="bold" textLength="180.5" lengthAdjust="spacingAndGlyphs">Non-registered Resident Ratio</text>
<text x="534.1" y="273.5" font-size="13" text-anchor="middle" font-weight="bold" textLength="180.5" lengthAdjust="spacingAndGlyphs">Non-registered Resident Ratio</text>
<text transform="translate(11,130.15) rotate(-90)" font-size="12.9" text-anchor="middle" font-weight="bold" textLength="180.7" lengthAdjust="spacingAndGlyphs">Distance to Urban Center (km)</text>
<text transform="translate(358.6,128.5) rotate(-90)" font-size="13.2" text-anchor="middle" font-weight="bold" textLength="207.5" lengthAdjust="spacingAndGlyphs">Service Accessibility Distance (log)</text>
<rect x="249" y="179.5" width="82.60000000000002" height="63.400000000000006" rx="2" fill="#fff" fill-opacity="0.8" stroke="#e2e2e2" stroke-width="1"/>
<circle cx="261" cy="186.7" r="1.9" fill="rgb(5,5,255)" fill-opacity="0.8"/>
<text x="276.6" y="188.89999999999998" font-size="8.7" fill="#222">Low</text>
<circle cx="261" cy="199" r="1.9" fill="rgb(18,143,18)" fill-opacity="0.8"/>
<text x="276.6" y="201.2" font-size="8.7" fill="#222">Medium Low</text>
<circle cx="261" cy="211.2" r="1.9" fill="rgb(230,249,5)" fill-opacity="0.8"/>
<text x="276.6" y="213.39999999999998" font-size="8.7" fill="#222">Medium</text>
<circle cx="261" cy="223.5" r="1.9" fill="rgb(236,159,18)" fill-opacity="0.8"/>
<text x="276.6" y="225.7" font-size="8.7" fill="#222">Medium High</text>
<circle cx="261" cy="235.8" r="1.9" fill="rgb(243,14,14)" fill-opacity="0.8"/>
<text x="276.6" y="238.0" font-size="8.7" fill="#222">High</text>
<rect x="562.2" y="178.7" width="117.69999999999993" height="63.0" rx="2" fill="#fff" fill-opacity="0.8" stroke="#e2e2e2" stroke-width="1"/>
<circle cx="574.7" cy="185.9" r="1.6" fill="rgb(5,5,255)" fill-opacity="0.8"/>
<text x="589.7" y="188.1" font-size="8.7" fill="#222">Low (β=1.20)</text>
<circle cx="574.7" cy="198.3" r="1.6" fill="rgb(18,143,18)" fill-opacity="0.8"/>
<text x="589.7" y="200.5" font-size="8.7" fill="#222">Medium Low (β=1.34)</text>
<circle cx="574.7" cy="210.5" r="1.6" fill="rgb(230,249,5)" fill-opacity="0.8"/>
<text x="589.7" y="212.7" font-size="8.7" fill="#222">Medium (β=0.88)</text>
<circle cx="574.7" cy="222.6" r="1.6" fill="rgb(236,159,18)" fill-opacity="0.8"/>
<text x="589.7" y="224.79999999999998" font-size="8.7" fill="#222">Medium High (β=0.91)</text>
<circle cx="574.7" cy="235" r="1.6" fill="rgb(243,14,14)" fill-opacity="0.8"/>
<text x="589.7" y="237.2" font-size="8.7" fill="#222">High (β=0.58)</text>
</svg>
</body></html>
